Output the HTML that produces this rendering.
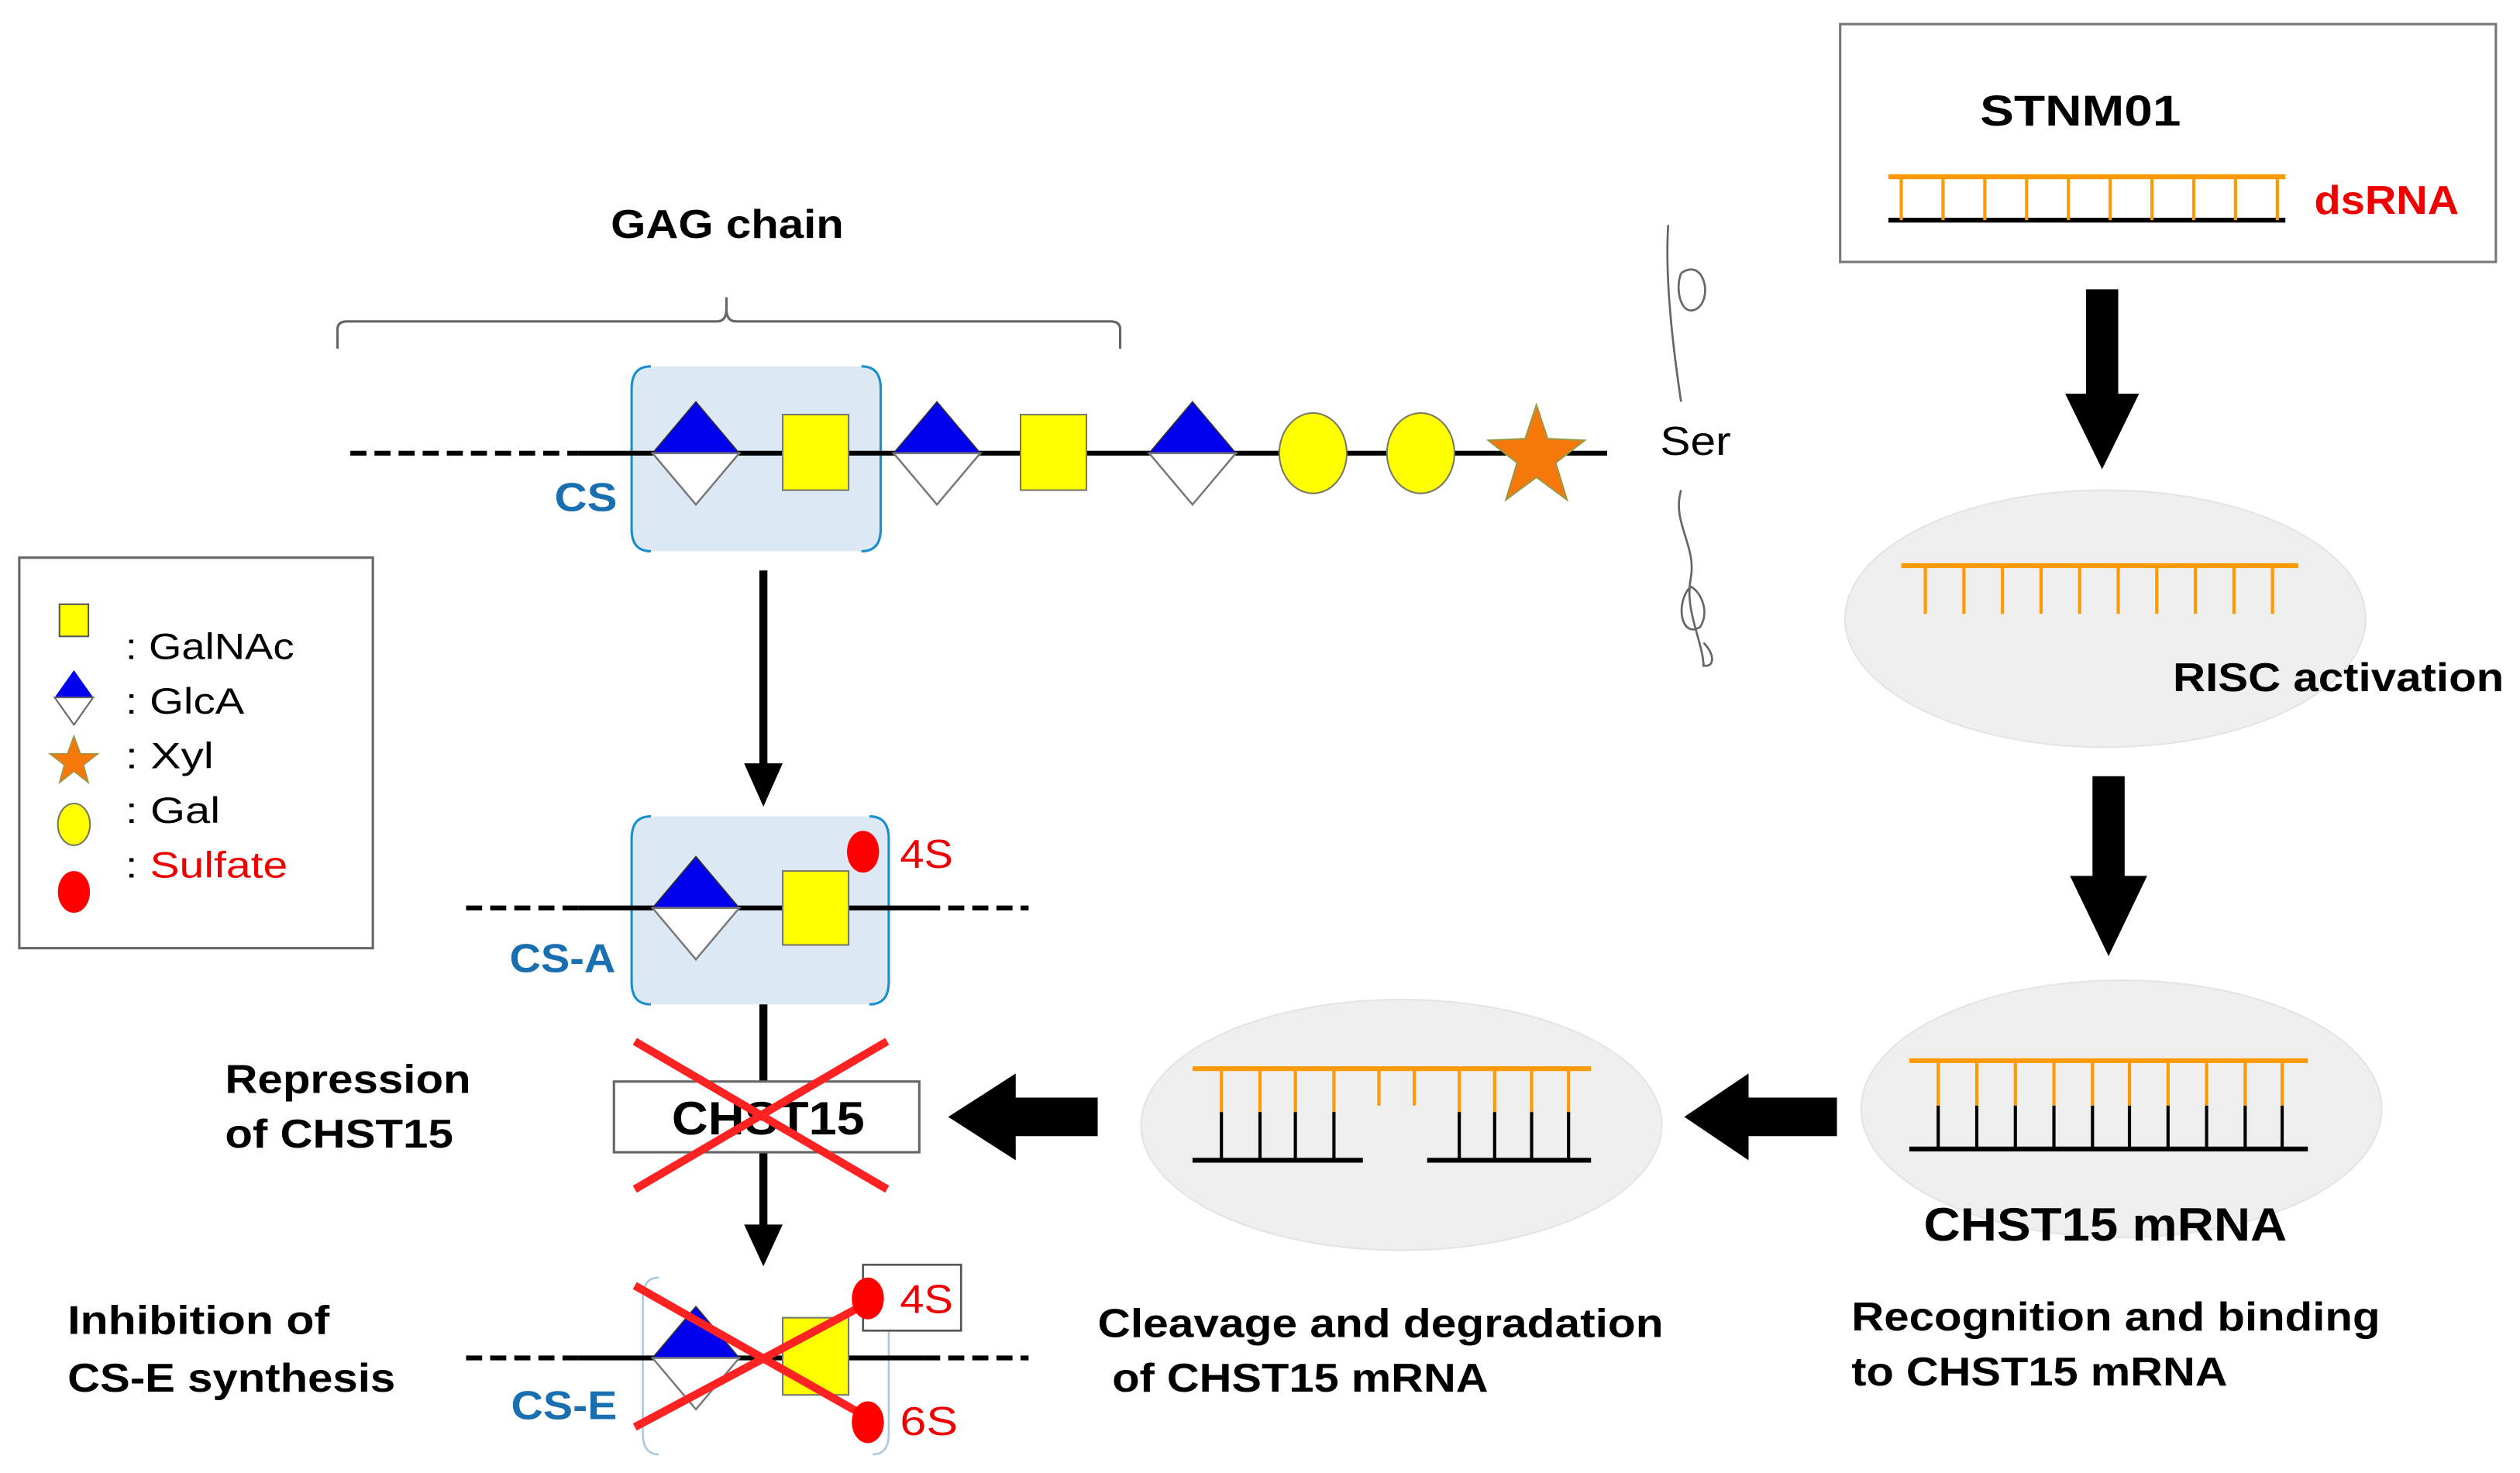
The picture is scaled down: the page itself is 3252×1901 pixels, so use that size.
<!DOCTYPE html>
<html><head><meta charset="utf-8"><style>
html,body{margin:0;padding:0;background:#fff;}
svg{display:block;}
text{font-family:"Liberation Sans",Arial,sans-serif;}
.b{font-weight:bold;}
</style></head><body>
<svg width="3252" height="1901" viewBox="0 0 1568 916.6" preserveAspectRatio="none" xmlns="http://www.w3.org/2000/svg">
<defs>
<g id="dia"><polygon points="0,-32 27,0 -27,0" fill="#0000ee" stroke="#333" stroke-width="0.8"/><polygon points="-27,0 27,0 0,32" fill="#fff" stroke="#777" stroke-width="1.2"/></g>
</defs>
<rect width="1568" height="916.6" fill="#fff"/>

<!-- STNM01 box -->
<rect x="1145" y="15" width="408" height="148" fill="#fff" stroke="#777" stroke-width="1.5"/>
<text x="1232" y="78" font-size="27" class="b" textLength="125" lengthAdjust="spacingAndGlyphs">STNM01</text>
<line x1="1175" y1="110" x2="1422" y2="110" stroke="#f90" stroke-width="3"/>
<line x1="1175" y1="137" x2="1422" y2="137" stroke="#000" stroke-width="3"/>
<g stroke="#f90" stroke-width="2">
<path d="M1183 110V137M1209 110V137M1235 110V137M1261 110V137M1287 110V137M1313 110V137M1339 110V137M1365 110V137M1391 110V137M1417 110V137"/>
</g>
<text x="1440" y="133" font-size="25" class="b" fill="#e00" textLength="90" lengthAdjust="spacingAndGlyphs">dsRNA</text>

<!-- arrow down 1 -->
<polygon points="1298,180 1318,180 1318,245 1331,245 1308,292 1285,245 1298,245" fill="#000"/>

<!-- RISC ellipse -->
<ellipse cx="1310" cy="385" rx="162" ry="80" fill="#efefef" stroke="#e4e4e4"/>
<line x1="1183" y1="352" x2="1430" y2="352" stroke="#f90" stroke-width="3"/>
<g stroke="#f90" stroke-width="2">
<path d="M1198 352V382M1222 352V382M1246 352V382M1270 352V382M1294 352V382M1318 352V382M1342 352V382M1366 352V382M1390 352V382M1414 352V382"/>
</g>
<text x="1352" y="430" font-size="25" class="b" textLength="206" lengthAdjust="spacingAndGlyphs">RISC  activation</text>

<!-- arrow down 2 -->
<polygon points="1302,483 1322,483 1322,545 1336,545 1312,595 1288,545 1302,545" fill="#000"/>

<!-- Ellipse 3 -->
<ellipse cx="1320" cy="690" rx="162" ry="80" fill="#efefef" stroke="#e4e4e4"/>
<line x1="1188" y1="660" x2="1436" y2="660" stroke="#f90" stroke-width="3"/>
<line x1="1188" y1="715" x2="1436" y2="715" stroke="#000" stroke-width="3"/>
<g stroke-width="2">
<path stroke="#f90" d="M1206 660V688M1230 660V688M1254 660V688M1278 660V688M1302 660V688M1325 660V688M1349 660V688M1373 660V688M1397 660V688M1420 660V688"/>
<path stroke="#000" d="M1206 688V715M1230 688V715M1254 688V715M1278 688V715M1302 688V715M1325 688V715M1349 688V715M1373 688V715M1397 688V715M1420 688V715"/>
</g>
<text x="1197" y="772" font-size="29" class="b" textLength="226" lengthAdjust="spacingAndGlyphs">CHST15 mRNA</text>
<text x="1152" y="828" font-size="25" class="b" textLength="329" lengthAdjust="spacingAndGlyphs">Recognition  and binding</text>
<text x="1152" y="862" font-size="25" class="b" textLength="234" lengthAdjust="spacingAndGlyphs">to CHST15  mRNA</text>

<!-- left arrow 1 -->
<polygon points="1143,683 1143,707 1088,707 1088,722 1048,695 1088,668 1088,683" fill="#000"/>

<!-- Ellipse 4 -->
<ellipse cx="872" cy="700" rx="162" ry="78" fill="#efefef" stroke="#e4e4e4"/>
<line x1="742" y1="665" x2="990" y2="665" stroke="#f90" stroke-width="3"/>
<line x1="742" y1="722" x2="848" y2="722" stroke="#000" stroke-width="3"/>
<line x1="888" y1="722" x2="990" y2="722" stroke="#000" stroke-width="3"/>
<g stroke-width="2">
<path stroke="#f90" d="M760 665V692M784 665V692M806 665V692M830 665V692M858 665V688M880 665V688M908 665V692M930 665V692M953 665V692M976 665V692"/>
<path stroke="#000" d="M760 692V722M784 692V722M806 692V722M830 692V722M908 692V722M930 692V722M953 692V722M976 692V722"/>
</g>
<text x="683" y="832" font-size="25" class="b" textLength="352" lengthAdjust="spacingAndGlyphs">Cleavage and degradation</text>
<text x="692" y="866" font-size="25" class="b" textLength="234" lengthAdjust="spacingAndGlyphs">of CHST15  mRNA</text>

<!-- left arrow 2 -->
<polygon points="683,683 683,707 632,707 632,722 590,695 632,668 632,683" fill="#000"/>

<!-- Ser squiggles -->
<path d="M1038 140 C1036 170 1040 210 1046 250 M1046 170 C1060 160 1066 185 1056 192 C1046 198 1042 180 1046 170" fill="none" stroke="#666" stroke-width="1.3"/>
<path d="M1046 305 C1040 325 1056 340 1052 360 C1048 380 1060 400 1060 415 M1052 365 C1042 375 1046 398 1058 390 C1064 380 1058 368 1052 365 M1060 400 C1068 408 1066 416 1060 414" fill="none" stroke="#666" stroke-width="1.3"/>
<text x="1033" y="283" font-size="25" textLength="44" lengthAdjust="spacingAndGlyphs">Ser</text>

<!-- GAG chain -->
<text x="380" y="148" font-size="25" class="b" textLength="145" lengthAdjust="spacingAndGlyphs">GAG  chain</text>
<path d="M210 217 V205 Q210 200 216 200 H446 Q452 200 452 192 V185 M452 192 Q452 200 458 200 H691 Q697 200 697 205 V217" fill="none" stroke="#666" stroke-width="1.5"/>

<rect x="393" y="228" width="155" height="115" rx="14" fill="#dce9f5"/>
<path d="M405 228 Q393 228 393 242 V329 Q393 343 405 343 M536 228 Q548 228 548 242 V329 Q548 343 536 343" fill="none" stroke="#1a8fd0" stroke-width="1.5"/>
<line x1="218" y1="282" x2="360" y2="282" stroke="#000" stroke-width="3" stroke-dasharray="10,5"/>
<line x1="360" y1="282" x2="1000" y2="282" stroke="#000" stroke-width="3"/>
<use href="#dia" x="433" y="282"/>
<rect x="487" y="258" width="41" height="47" fill="#ff0" stroke="#776" stroke-width="1"/>
<use href="#dia" x="583" y="282"/>
<rect x="635" y="258" width="41" height="47" fill="#ff0" stroke="#776" stroke-width="1"/>
<use href="#dia" x="742" y="282"/>
<ellipse cx="817" cy="282" rx="21" ry="25" fill="#ff0" stroke="#776" stroke-width="1"/>
<ellipse cx="884" cy="282" rx="21" ry="25" fill="#ff0" stroke="#776" stroke-width="1"/>
<polygon points="956,252 963,273 986,274 968,288 975,311 956,297 937,311 944,288 926,274 949,273" fill="#f7780a" stroke="#994" stroke-width="1"/>
<text x="345" y="318" font-size="25" class="b" fill="#1a6fb0" textLength="39" lengthAdjust="spacingAndGlyphs">CS</text>

<!-- arrow down -->
<line x1="475" y1="355" x2="475" y2="478" stroke="#000" stroke-width="5"/>
<polygon points="463,475 487,475 475,502" fill="#000"/>

<!-- Legend -->
<rect x="12" y="347" width="220" height="243" fill="#fff" stroke="#666" stroke-width="1.5"/>
<rect x="37" y="376" width="18" height="20" fill="#ff0" stroke="#555" stroke-width="1"/>
<text x="78" y="410" font-size="23" textLength="105" lengthAdjust="spacingAndGlyphs">: GalNAc</text>
<polygon points="46,417 58,434 34,434" fill="#0000ee"/><polygon points="34,434 58,434 46,451" fill="#fff" stroke="#666"/>
<text x="78" y="444" font-size="23" textLength="74" lengthAdjust="spacingAndGlyphs">: GlcA</text>
<polygon points="46,458 50,469 61,469 52,476 55,487 46,480 37,487 40,476 31,469 42,469" fill="#f7780a" stroke="#994" stroke-width="0.8"/>
<text x="78" y="478" font-size="23" textLength="55" lengthAdjust="spacingAndGlyphs">: Xyl</text>
<ellipse cx="46" cy="513" rx="10" ry="13" fill="#ff0" stroke="#776"/>
<text x="78" y="512" font-size="23" textLength="59" lengthAdjust="spacingAndGlyphs">: Gal</text>
<text x="78" y="546" font-size="23" fill="#e00" textLength="101" lengthAdjust="spacingAndGlyphs"><tspan fill="#000">: </tspan>Sulfate</text>
<ellipse cx="46" cy="555" rx="10" ry="13" fill="#f00"/>

<!-- CS-A -->
<rect x="393" y="508" width="160" height="117" rx="14" fill="#dce9f5"/>
<path d="M405 508 Q393 508 393 522 V611 Q393 625 405 625 M541 508 Q553 508 553 522 V611 Q553 625 541 625" fill="none" stroke="#1a8fd0" stroke-width="1.5"/>
<line x1="290" y1="565" x2="360" y2="565" stroke="#000" stroke-width="3" stroke-dasharray="10,5"/>
<line x1="360" y1="565" x2="575" y2="565" stroke="#000" stroke-width="3"/>
<line x1="575" y1="565" x2="640" y2="565" stroke="#000" stroke-width="3" stroke-dasharray="10,5"/>
<use href="#dia" x="433" y="565"/>
<rect x="487" y="542" width="41" height="46" fill="#ff0" stroke="#776" stroke-width="1"/>
<ellipse cx="537" cy="530" rx="10" ry="13" fill="#f00"/>
<text x="560" y="540" font-size="25" fill="#e00" textLength="33" lengthAdjust="spacingAndGlyphs">4S</text>
<text x="317" y="605" font-size="25" class="b" fill="#1a6fb0" textLength="66" lengthAdjust="spacingAndGlyphs">CS-A</text>

<!-- CHST15 -->
<line x1="475" y1="625" x2="475" y2="673" stroke="#000" stroke-width="5"/>
<line x1="475" y1="717" x2="475" y2="765" stroke="#000" stroke-width="5"/>
<polygon points="463,762 487,762 475,788" fill="#000"/>
<rect x="382" y="673" width="190" height="44" fill="#fff" stroke="#666" stroke-width="1.5"/>
<text x="418" y="706" font-size="29" class="b" textLength="120" lengthAdjust="spacingAndGlyphs">CHST15</text>
<path d="M395 648 L552 740 M395 740 L552 648" stroke="#f22" stroke-width="5"/>
<text x="140" y="680" font-size="25" class="b" textLength="153" lengthAdjust="spacingAndGlyphs">Repression</text>
<text x="140" y="714" font-size="25" class="b" textLength="142" lengthAdjust="spacingAndGlyphs">of CHST15</text>

<!-- CS-E -->
<path d="M410 795 Q400 795 400 808 V892 Q400 905 410 905 M543 795 Q553 795 553 808 V892 Q553 905 543 905" fill="none" stroke="#a8c8e0" stroke-width="1.2"/>
<line x1="290" y1="845" x2="360" y2="845" stroke="#000" stroke-width="3" stroke-dasharray="10,5"/>
<line x1="360" y1="845" x2="575" y2="845" stroke="#000" stroke-width="3"/>
<line x1="575" y1="845" x2="640" y2="845" stroke="#000" stroke-width="3" stroke-dasharray="10,5"/>
<use href="#dia" x="433" y="845"/>
<rect x="487" y="820" width="41" height="48" fill="#ff0" stroke="#776" stroke-width="1"/>
<rect x="537" y="787" width="61" height="41" fill="#fff" stroke="#555" stroke-width="1.3"/>
<text x="560" y="817" font-size="25" fill="#e00" textLength="33" lengthAdjust="spacingAndGlyphs">4S</text>
<text x="560" y="893" font-size="25" fill="#e00" textLength="36" lengthAdjust="spacingAndGlyphs">6S</text>
<path d="M395 800 L545 885 M395 888 L545 808" stroke="#f22" stroke-width="5"/>
<ellipse cx="540" cy="808" rx="10" ry="13" fill="#f00"/>
<ellipse cx="540" cy="885" rx="10" ry="13" fill="#f00"/>
<text x="318" y="883" font-size="25" class="b" fill="#1a6fb0" textLength="66" lengthAdjust="spacingAndGlyphs">CS-E</text>
<text x="42" y="830" font-size="25" class="b" textLength="163" lengthAdjust="spacingAndGlyphs">Inhibition  of</text>
<text x="42" y="866" font-size="25" class="b" textLength="204" lengthAdjust="spacingAndGlyphs">CS-E synthesis</text>
</svg>
</body></html>
